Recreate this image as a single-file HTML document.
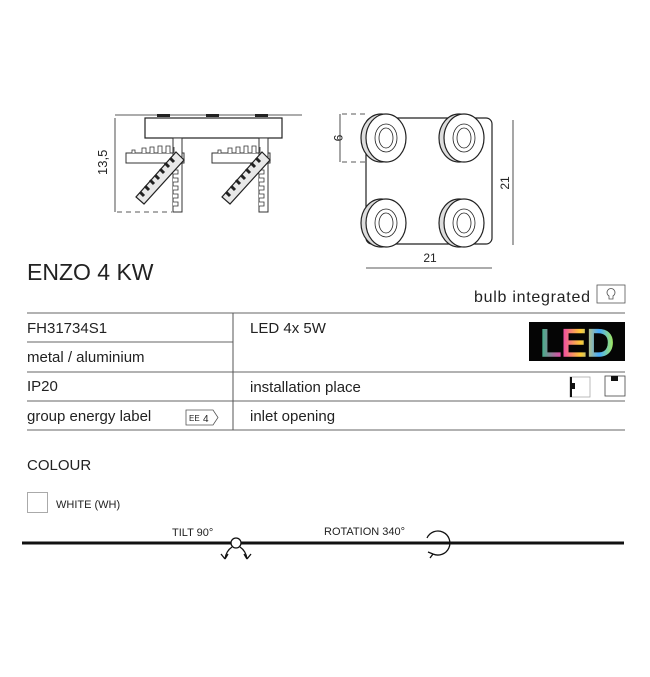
<!DOCTYPE html>
<html><head><style>
html,body{margin:0;padding:0;background:#fff;width:650px;height:677px;overflow:hidden}
svg{display:block}
text{font-family:"Liberation Sans",sans-serif;fill:#222}
</style></head><body>
<svg width="650" height="677" viewBox="0 0 650 677" xmlns="http://www.w3.org/2000/svg">
<!-- side view -->
<g stroke="#222" fill="none" stroke-width="1.2">
<line x1="115" y1="115" x2="302" y2="115" stroke-width="0.8"/>
<rect x="145" y="118" width="137" height="20" fill="#fff"/>
<line x1="115" y1="118" x2="115" y2="212" stroke-width="0.8"/>
<line x1="117" y1="212" x2="172" y2="212" stroke-dasharray="5,4" stroke-width="0.8"/>
</g>
<rect x="157" y="114" width="13" height="3" fill="#222"/>
<rect x="206" y="114" width="13" height="3" fill="#222"/>
<rect x="255" y="114" width="13" height="3" fill="#222"/>
<text transform="translate(107,175) rotate(-90)" font-size="13">13,5</text>
<g id="lamp" stroke="#333" fill="#fff" stroke-width="1">
<rect x="126" y="153" width="58" height="10"/>
<rect x="173" y="138" width="9" height="74"/>
<g stroke-width="0.8"><path d="M132 153v-3h3v3M142 153v-5h4v5M150 153v-6h4v6M158 153v-7h4v7M166 153v-7h4v7M174 153v-6"/><path d="M173 170h5v4h-5M173 178h5v4h-5M173 186h5v4h-5M173 194h5v4h-5M173 202h5v4h-5"/></g>
<polygon points="176,152 184,160 144,204 136,197" fill="#e8e8e8" stroke="#222" stroke-width="1.2"/>
<path d="M140 192l4 4M145 186l4 4M150 180l4 4M155 175l4 4M160 169l4 4M165 163l4 4M170 158l4 4" stroke="#222" stroke-width="3"/>
</g>
<use href="#lamp" x="86"/>
<!-- plan view -->
<rect x="366" y="118" width="126" height="126" rx="6" fill="#fff" stroke="#222" stroke-width="1.2"/>
<g stroke="#222" fill="none" stroke-width="0.8">
<line x1="340" y1="114" x2="340" y2="162"/>
<line x1="342" y1="114" x2="368" y2="114" stroke-dasharray="5,4"/>
<line x1="342" y1="162" x2="368" y2="162" stroke-dasharray="5,4"/>
<line x1="513" y1="120" x2="513" y2="245"/>
<line x1="366" y1="268" x2="492" y2="268"/>
</g>
<text transform="translate(334,138) rotate(90)" font-size="12" text-anchor="middle">9</text>
<text transform="translate(509,183) rotate(-90)" font-size="12" text-anchor="middle">21</text>
<text x="430" y="262" font-size="12" text-anchor="middle">21</text>
<g id="disc" stroke="#222" stroke-width="1.2">
<ellipse cx="381" cy="138" rx="20" ry="24" fill="#ddd"/>
<ellipse cx="386" cy="138" rx="20" ry="24" fill="#fff"/>
<ellipse cx="386" cy="138" rx="11" ry="14" fill="none" stroke-width="0.8"/>
<ellipse cx="386" cy="138" rx="7" ry="10" fill="none" stroke-width="0.8"/>
</g>
<use href="#disc" x="78"/>
<use href="#disc" y="85"/>
<use href="#disc" x="78" y="85"/>
<!-- title -->
<text x="27" y="280" font-size="23">ENZO 4 KW</text>
<text x="590" y="302" font-size="16" text-anchor="end" textLength="116">bulb integrated</text>
<rect x="597" y="285" width="28" height="18" fill="none" stroke="#555" stroke-width="0.8"/>
<path d="M609 296a4 4 0 1 1 4 0v3h-4z" fill="none" stroke="#555" stroke-width="0.8"/>
<!-- table -->
<g stroke="#999" stroke-width="1.5">
<line x1="27" y1="313" x2="625" y2="313"/>
<line x1="27" y1="342" x2="233" y2="342"/>
<line x1="27" y1="372" x2="625" y2="372"/>
<line x1="27" y1="401" x2="625" y2="401"/>
<line x1="27" y1="430" x2="625" y2="430"/>
<line x1="233" y1="313" x2="233" y2="430" stroke="#555" stroke-width="1"/>
</g>
<g font-size="15">
<text x="27" y="333">FH31734S1</text>
<text x="27" y="362">metal / aluminium</text>
<text x="27" y="391">IP20</text>
<text x="27" y="421">group energy label</text>
<text x="250" y="333">LED 4x 5W</text>
<text x="250" y="392">installation place</text>
<text x="250" y="421">inlet opening</text>
</g>
<defs><linearGradient id="rb" x1="0" x2="1"><stop offset="0" stop-color="#3b8"/><stop offset=".3" stop-color="#e4a"/><stop offset=".55" stop-color="#fc3"/><stop offset=".8" stop-color="#4af"/><stop offset="1" stop-color="#ae5"/></linearGradient></defs>
<rect x="529" y="322" width="96" height="39" fill="#050505"/>
<text x="577" y="356" font-size="38" text-anchor="middle" style="fill:url(#rb);stroke:url(#rb);stroke-width:1.5">LED</text>
<rect x="570" y="377" width="20" height="20" fill="#fff" stroke="#aaa" stroke-width="0.8"/>
<rect x="570" y="377" width="2" height="20" fill="#111"/><rect x="570" y="383" width="5" height="6" fill="#111"/>
<rect x="605" y="376" width="20" height="20" fill="#fff" stroke="#444" stroke-width="0.8"/>
<rect x="611" y="376" width="7" height="5" fill="#111"/>
<path d="M186 410h27l5 7.5-5 7.5h-27z" fill="none" stroke="#555" stroke-width="0.8"/>
<text x="189" y="421" font-size="8">EE</text><text x="203" y="422" font-size="10">4</text>
<!-- colour -->
<text x="27" y="470" font-size="15">COLOUR</text>
<rect x="27.5" y="492.5" width="20" height="20" fill="#fff" stroke="#aaa"/>
<text x="56" y="508" font-size="11">WHITE (WH)</text>
<line x1="22" y1="543" x2="624" y2="543" stroke="#111" stroke-width="3"/>
<text x="172" y="536" font-size="11">TILT 90°</text>
<text x="324" y="535" font-size="11">ROTATION 340°</text>
<circle cx="236" cy="543" r="5" fill="#fff" stroke="#111" stroke-width="1.3"/>
<path d="M232 547q-6 4-7 12M225 559l-4-5M225 559l3-5M240 547q6 4 7 12M247 559l-3-5M247 559l4-5" fill="none" stroke="#111" stroke-width="1.3"/>
<path d="M427 538a12 12 0 1 1 6 16" fill="none" stroke="#111" stroke-width="1.3"/>
<path d="M433 554l-5-2M433 554l-3 4" fill="none" stroke="#111" stroke-width="1.3"/>
</svg>
</body></html>
